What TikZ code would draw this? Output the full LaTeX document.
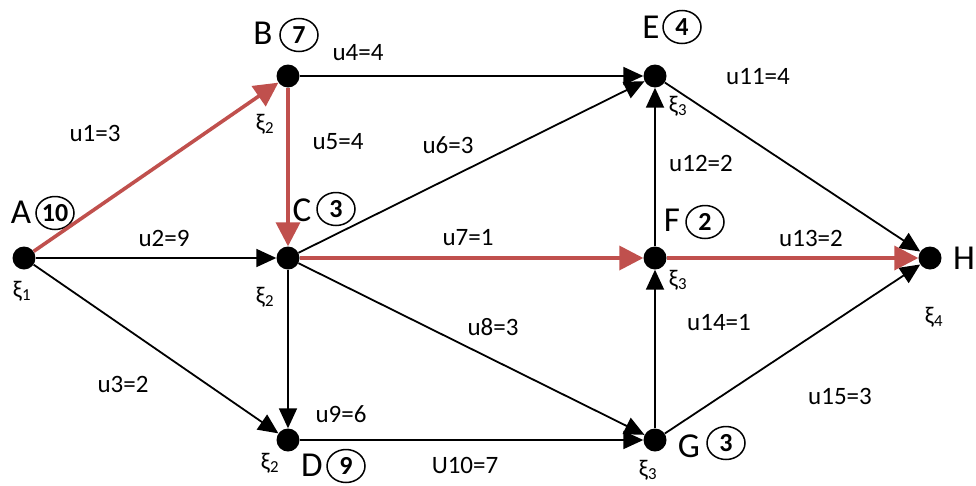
\documentclass[tikz,border=0pt]{standalone}
\usepackage{fontspec}
\setmainfont{Carlito}
\usetikzlibrary{arrows.meta,shapes.geometric}
\tikzset{
  vtx/.style={circle,fill=black,inner sep=0pt,minimum size=23pt},
  nlab/.style={font=\fontsize{35}{35}\selectfont,inner sep=0pt},
  cnum/.style={ellipse,draw=black,line width=1.5pt,inner sep=0pt,minimum width=38pt,minimum height=33pt,font=\fontsize{26}{26}\selectfont\bfseries},
  xlab/.style={font=\fontsize{24}{24}\selectfont,inner sep=0pt},
  elab/.style={font=\fontsize{25}{25}\selectfont,inner sep=0pt},
  blk/.style={line width=1.8pt,-{Triangle[length=20pt,width=18pt]}},
  redge/.style={line width=3.6pt,draw={rgb,255:red,192;green,80;blue,77},-{Triangle[length=24pt,width=24pt]}},
}
\begin{document}
\begin{tikzpicture}[x=1pt,y=-1pt]
\useasboundingbox (0,0) rectangle (976,485);
% vertices
\node[vtx] (A) at (24,258) {};
\node[vtx] (B) at (288,76) {};
\node[vtx] (C) at (288,258) {};
\node[vtx] (D) at (288,440) {};
\node[vtx] (E) at (655,76) {};
\node[vtx] (F) at (655,258) {};
\node[vtx] (G) at (655,440) {};
\node[vtx] (H) at (930,258) {};
% vertex names and numbers
\node[nlab] (lA) at (21,212) {A};
\node[cnum] (cA) at (55,213) {10};
\node[nlab] (lB) at (263,33) {B};
\node[cnum] (cB) at (299,35) {7};
\node[nlab] (lC) at (302,210) {C};
\node[cnum] (cC) at (336,209) {3};
\node[nlab] (lD) at (312,465) {D};
\node[cnum] (cD) at (346,466) {9};
\node[nlab] (lE) at (651,27) {E};
\node[cnum] (cE) at (682,27) {4};
\node[nlab] (lF) at (672,220) {F};
\node[cnum] (cF) at (705,222) {2};
\node[nlab] (lG) at (689,446) {G};
\node[cnum] (cG) at (726,443) {3};
\node[nlab] (lH) at (964,258) {H};
% xi labels
\node[xlab] (xA) at (22,291) {ξ\textsubscript{1}};
\node[xlab] (xB) at (265,124) {ξ\textsubscript{2}};
\node[xlab] (xC) at (265,297) {ξ\textsubscript{2}};
\node[xlab] (xD) at (270,463) {ξ\textsubscript{2}};
\node[xlab] (xE) at (678,106) {ξ\textsubscript{3}};
\node[xlab] (xF) at (678,280) {ξ\textsubscript{3}};
\node[xlab] (xG) at (648,470) {ξ\textsubscript{3}};
\node[xlab] (xH) at (934,317) {ξ\textsubscript{4}};
% edges
\draw[blk] (A) -- (C);
\draw[blk] (A) -- (D);
\draw[blk] (B) -- (E);
\draw[blk] (C) -- (E);
\draw[blk] (C) -- (G);
\draw[blk] (C) -- (D);
\draw[blk] (D) -- (G);
\draw[blk] (E) -- (H);
\draw[blk] (F) -- (E);
\draw[blk] (G) -- (F);
\draw[blk] (G) -- (H);
\draw[redge] (A) -- (B);
\draw[redge] (B) -- (C);
\draw[redge] (C) -- (F);
\draw[redge] (F) -- (H);
% edge labels
\node[elab] (e1) at (95,133) {u1=3};
\node[elab] (e2) at (164,238) {u2=9};
\node[elab] (e3) at (123,384) {u3=2};
\node[elab] (e4) at (358,53) {u4=4};
\node[elab] (e5) at (338,142) {u5=4};
\node[elab] (e6) at (448,145) {u6=3};
\node[elab] (e7) at (468,238) {u7=1};
\node[elab] (e8) at (493,327) {u8=3};
\node[elab] (e9) at (341,414) {u9=6};
\node[elab] (e10) at (465,465) {U10=7};
\node[elab] (e11) at (758,77) {u11=4};
\node[elab] (e12) at (701,163) {u12=2};
\node[elab] (e13) at (811,238) {u13=2};
\node[elab] (e14) at (719,323) {u14=1};
\node[elab] (e15) at (840,396) {u15=3};
\end{tikzpicture}
\end{document}
